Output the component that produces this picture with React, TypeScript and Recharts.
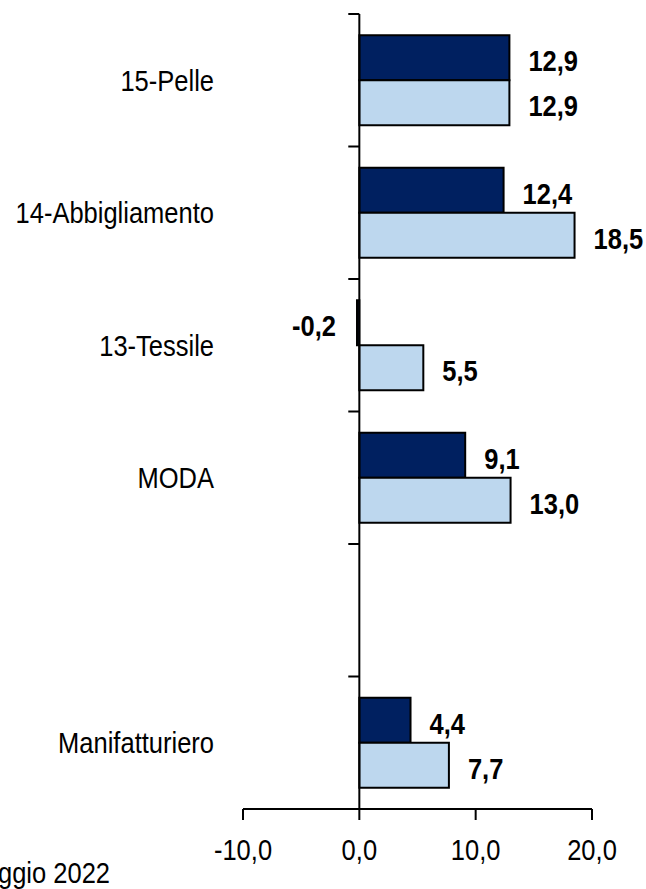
import React from "react";
import { BarChart, Bar, XAxis, YAxis, ReferenceLine, LabelList } from "recharts";

const categories = ["15-Pelle", "14-Abbigliamento", "13-Tessile", "MODA", " ", "Manifatturiero"];
const seriesDark = [12.9, 12.4, -0.2, 9.1, null, 4.4];
const seriesLight = [12.9, 18.5, 5.5, 13.0, null, 7.7];
const xTicks = [-10, 0, 10, 20];
const footnote = "gennaio-maggio 2022";

const data = categories.map((name, i) => ({ name, dark: seriesDark[i], light: seriesLight[i] }));

const FONT = "'Liberation Sans', Arial, sans-serif";
const FS = 25.5;
const SY = 1.17;
const fmt = (v: number) => v.toFixed(1).replace(".", ",");

const ValueLabel = (props: any) => {
  const { x, y, width, height, value } = props;
  if (value === null || value === undefined) return null;
  const left = Math.min(x, x + width);
  const right = Math.max(x, x + width);
  const neg = value < 0;
  return (
    <g transform={`translate(${neg ? left - 21 : right + 19},${y + height / 2 + 3}) scale(1,${SY})`}>
      <text
        x={0}
        y={0}
        dy="0.36em"
        textAnchor={neg ? "end" : "start"}
        fontFamily={FONT}
        fontWeight="bold"
        fontSize={FS}
        fill="#000"
      >
        {fmt(value)}
      </text>
    </g>
  );
};

const YTick = (props: any) => {
  const { x, y, payload } = props;
  return (
    <g transform={`translate(${x},${y}) scale(1,${SY})`}>
      <text x={0} y={0} dy="0.355em" textAnchor="end" fontFamily={FONT} fontSize={FS} fill="#000">
        {payload.value}
      </text>
    </g>
  );
};

const XTick = (props: any) => {
  const { x, y, payload } = props;
  return (
    <g transform={`translate(${x},${y}) scale(1,${SY})`}>
      <text x={0} y={0} dy="0.72em" textAnchor="middle" fontFamily={FONT} fontSize={FS} fill="#000">
        {fmt(payload.value)}
      </text>
    </g>
  );
};

export default function App() {
  return (
    <div style={{ position: "absolute", left: 0, top: 0, width: 646, height: 889, background: "#fff", overflow: "hidden" }}>
      <BarChart
        width={646}
        height={889}
        data={data}
        layout="vertical"
        margin={{ top: 14, right: 54, bottom: 0, left: 0 }}
        barCategoryGap="16%"
        barGap={0}
      >
        <XAxis
          type="number"
          domain={[-10, 20]}
          ticks={xTicks}
          height={80}
          axisLine={{ stroke: "#000", strokeWidth: 2 }}
          tickLine={{ stroke: "#000", strokeWidth: 2 }}
          tickSize={11}
          tickMargin={19}
          tick={<XTick />}
          allowDataOverflow
        />
        <YAxis
          type="category"
          dataKey="name"
          width={243}
          axisLine={false}
          tickLine={false}
          tickSize={0}
          tickMargin={29}
          tick={<YTick />}
          interval={0}
        />
        <Bar dataKey="dark" fill="#002060" stroke="#000" strokeWidth={2} isAnimationActive={false}>
          <LabelList dataKey="dark" content={ValueLabel} />
        </Bar>
        <Bar dataKey="light" fill="#BDD7EE" stroke="#000" strokeWidth={2} isAnimationActive={false}>
          <LabelList dataKey="light" content={ValueLabel} />
        </Bar>
        <ReferenceLine x={0} stroke="#000" strokeWidth={2} />
        {categories.map((c) => (
          <ReferenceLine
            key={"t" + c}
            position="start"
            segment={[{ x: -0.95, y: c }, { x: 0, y: c }]}
            stroke="#000"
            strokeWidth={2}
          />
        ))}
      </BarChart>
      <svg width={646} height={889} style={{ position: "absolute", left: 0, top: 0, pointerEvents: "none" }}>
        <g transform={`translate(110,883) scale(1,${SY})`}>
          <text x={0} y={0} textAnchor="end" fontFamily={FONT} fontSize={FS} fill="#000">
            {footnote}
          </text>
        </g>
      </svg>
    </div>
  );
}
